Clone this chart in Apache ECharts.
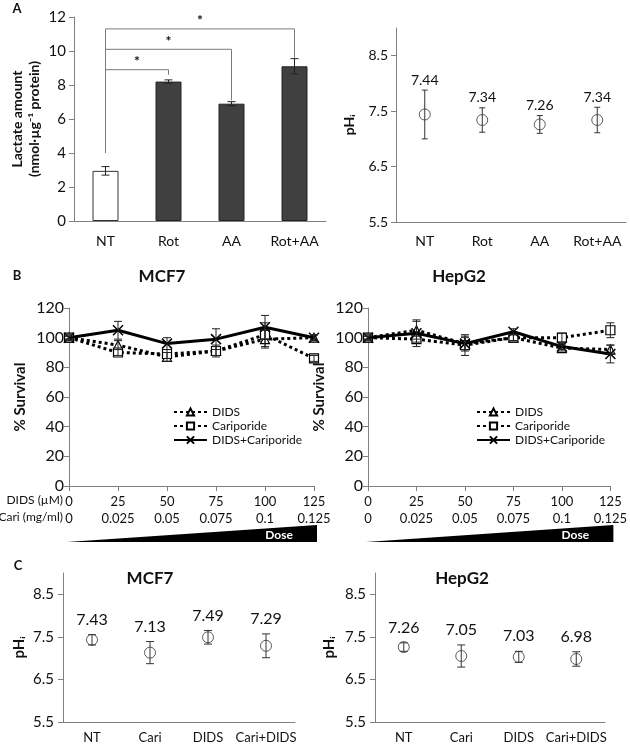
<!DOCTYPE html>
<html><head><meta charset="utf-8">
<script src="https://cdn.jsdelivr.net/npm/echarts@6/dist/echarts.min.js"></script>
<style>html,body{margin:0;padding:0;background:#fff}#c{width:630px;height:744px}</style>
</head><body><div id="c"></div>
<script>
// ---------- DATA ----------
// Panel A (left): lactate amount
const lacCats = ['NT', 'Rot', 'AA', 'Rot+AA'];
const lacVals = [2.95, 8.2, 6.9, 9.1];
const lacErr = [0.25, 0.1, 0.12, 0.45];
// significance brackets: [fromCat, toCat, leftLegBottom, top, rightLegBottom]
const sigBrackets = [[0, 1, 4.0, 8.9, 8.6], [0, 2, 4.0, 10.1, 7.1], [0, 3, 4.0, 11.3, 9.6]];
// Panel A (right): pHi
const phACats = ['NT', 'Rot', 'AA', 'Rot+AA'];
const phAVals = [7.44, 7.34, 7.26, 7.34];
const phAErr = [0.44, 0.22, 0.16, 0.23];
// Panel B: % survival
const didsDose = ['0', '25', '50', '75', '100', '125'];
const cariDose = ['0', '0.025', '0.05', '0.075', '0.1', '0.125'];
const mcfDids = [100, 95, 87, 91, 99, 100];
const mcfDidsErr = [1, 3, 3, 3, 6, 2];
const mcfCari = [100, 90, 89, 91, 102, 86];
const mcfCariErr = [1, 2, 3, 4, 8, 2];
const mcfCombo = [100, 105, 96, 99, 107, 100];
const mcfComboErr = [2, 6, 4, 7, 8, 2];
const hepDids = [100, 105, 96, 100, 93, 92];
const hepDidsErr = [1, 6, 4, 2, 2, 3];
const hepCari = [100, 99, 95, 100, 100, 105];
const hepCariErr = [2, 2, 7, 2, 3, 5];
const hepCombo = [100, 103, 96, 104, 94, 89];
const hepComboErr = [1, 9, 5, 2, 2, 6];
// Panel C: pHi
const phCCats = ['NT', 'Cari', 'DIDS', 'Cari+DIDS'];
const mcfPh = [7.43, 7.13, 7.49, 7.29];
const mcfPhErr = [0.12, 0.26, 0.16, 0.28];
const hepPh = [7.26, 7.05, 7.03, 6.98];
const hepPhErr = [0.1, 0.26, 0.13, 0.17];
const phTicks = [5.5, 6.5, 7.5, 8.5];
const survTicks = [0, 20, 40, 60, 80, 100, 120];

// ---------- STYLE HELPERS ----------
const FONT = 'Lato, "Open Sans", sans-serif';
const AX = '#808080';
const TXT = '#111';

function triple(vals, errs) { return vals.map((v, i) => [i, v, errs[i]]); }

function errRender(capHalf, color, lw, label) {
  return function (params, api) {
    const x = api.value(0), m = api.value(1), e = api.value(2);
    const pT = api.coord([x, m + e]), pB = api.coord([x, m - e]);
    const st = { stroke: color, lineWidth: lw };
    const ch = [
      { type: 'line', shape: { x1: pT[0], y1: pT[1], x2: pB[0], y2: pB[1] }, style: st },
      { type: 'line', shape: { x1: pT[0] - capHalf, y1: pT[1], x2: pT[0] + capHalf, y2: pT[1] }, style: st },
      { type: 'line', shape: { x1: pB[0] - capHalf, y1: pB[1], x2: pB[0] + capHalf, y2: pB[1] }, style: st }
    ];
    if (label) {
      ch.push({ type: 'text', x: pT[0], y: pT[1] - label.gap,
        style: { text: m.toFixed(2), align: 'center', verticalAlign: 'bottom',
          font: label.size + 'px ' + FONT, fill: TXT } });
    }
    return { type: 'group', children: ch };
  };
}

function bracketRender(params, api) {
  const a = api.value(0), b = api.value(1), lb = api.value(2), top = api.value(3), rb = api.value(4);
  const p1 = api.coord([a, lb]), p2 = api.coord([a, top]), p3 = api.coord([b, top]), p4 = api.coord([b, rb]);
  return { type: 'group', children: [
    { type: 'polyline', shape: { points: [p1, p2, p3, p4] }, style: { stroke: '#7a7a7a', lineWidth: 1, fill: null } },
    { type: 'text', x: (p2[0] + p3[0]) / 2, y: p2[1] - 1,
      style: { text: '*', align: 'center', verticalAlign: 'bottom', font: 'bold 14px ' + FONT, fill: TXT } }
  ] };
}

function catX(gi, data, gap, margin, fs) {
  return { type: 'category', gridIndex: gi, data: data, boundaryGap: gap,
    axisLine: { lineStyle: { color: AX, width: 1 } },
    axisTick: { lineStyle: { color: AX }, length: 5, alignWithLabel: false, interval: 0 },
    axisLabel: { color: TXT, fontSize: fs, margin: margin, fontFamily: FONT, interval: 0 } };
}
function valY(gi, min, max, interval, name, gap, fs, custom, nameFs, margin) {
  const ax = { type: 'value', gridIndex: gi, min: min, max: max, interval: interval,
    name: name, nameLocation: 'middle', nameGap: gap, nameRotate: 90,
    nameTextStyle: { fontWeight: 'bold', fontSize: nameFs, color: TXT, fontFamily: FONT, lineHeight: nameFs + 3 },
    axisLine: { show: true, lineStyle: { color: AX, width: 1 } },
    axisTick: { show: true, length: 5, lineStyle: { color: AX } },
    splitLine: { show: false },
    axisLabel: { color: TXT, fontSize: fs, margin: margin, fontFamily: FONT } };
  if (custom) { ax.axisLabel.customValues = custom; ax.axisTick.customValues = custom; }
  return ax;
}

function survSeries(name, vals, errs, xi, yi, sym, size, solid) {
  const line = {
    name: name, type: 'line', xAxisIndex: xi, yAxisIndex: yi, data: vals,
    symbol: sym, symbolSize: size, showAllSymbol: true, z: solid ? 4 : 3,
    lineStyle: solid ? { color: '#000', width: 3 } : { color: '#000', width: 3, type: [3, 3] },
    itemStyle: sym.indexOf('path') === 0 ? { color: 'rgba(0,0,0,0)', borderColor: '#000', borderWidth: 1.5 }
      : { color: '#fff', borderColor: '#000', borderWidth: 1.2 }
  };
  const eb = { type: 'custom', xAxisIndex: xi, yAxisIndex: yi, data: triple(vals, errs),
    encode: { x: 0, y: 1 }, renderItem: errRender(4, '#222', 1, null), z: 5, silent: true };
  return [line, eb];
}

const xSym = 'path://M0,0L10,10M0,10L10,0';

const series = [];
// Panel A left bars
series.push({ type: 'bar', xAxisIndex: 0, yAxisIndex: 0, barWidth: 26,
  data: lacVals.map((v, i) => ({ value: v, itemStyle: i === 0 ? { color: '#fff', borderColor: '#333', borderWidth: 1 } : { color: '#404040', borderColor: '#222', borderWidth: 1 } })) });
series.push({ type: 'custom', xAxisIndex: 0, yAxisIndex: 0, data: triple(lacVals, lacErr), encode: { x: 0, y: 1 },
  renderItem: errRender(4, '#222', 1, null), z: 5 });
series.push({ type: 'custom', xAxisIndex: 0, yAxisIndex: 0, data: sigBrackets, encode: { x: [0, 1], y: [2, 3, 4] },
  renderItem: bracketRender, z: 6 });
// Panel A right pHi
series.push({ type: 'scatter', xAxisIndex: 1, yAxisIndex: 1, data: phAVals, symbol: 'circle', symbolSize: 11,
  itemStyle: { color: 'rgba(255,255,255,0)', borderColor: '#333', borderWidth: 1 } });
series.push({ type: 'custom', xAxisIndex: 1, yAxisIndex: 1, data: triple(phAVals, phAErr), encode: { x: 0, y: 1 },
  renderItem: errRender(3, '#333', 1, { gap: 3, size: 14 }), z: 5 });
// Panel B
series.push(...survSeries('DIDS', mcfDids, mcfDidsErr, 2, 2, 'triangle', 9, false));
series.push(...survSeries('Cariporide', mcfCari, mcfCariErr, 2, 2, 'rect', 9, false));
series.push(...survSeries('DIDS+Cariporide', mcfCombo, mcfComboErr, 2, 2, xSym, 10, true));
series.push(...survSeries('DIDS', hepDids, hepDidsErr, 3, 3, 'triangle', 9, false));
series.push(...survSeries('Cariporide', hepCari, hepCariErr, 3, 3, 'rect', 9, false));
series.push(...survSeries('DIDS+Cariporide', hepCombo, hepComboErr, 3, 3, xSym, 10, true));
// Panel C
series.push({ type: 'scatter', xAxisIndex: 4, yAxisIndex: 4, data: mcfPh, symbol: 'circle', symbolSize: 11,
  itemStyle: { color: 'rgba(255,255,255,0)', borderColor: '#333', borderWidth: 1 } });
series.push({ type: 'custom', xAxisIndex: 4, yAxisIndex: 4, data: triple(mcfPh, mcfPhErr), encode: { x: 0, y: 1 },
  renderItem: errRender(4, '#333', 1, { gap: 7, size: 16 }), z: 5 });
series.push({ type: 'scatter', xAxisIndex: 5, yAxisIndex: 5, data: hepPh, symbol: 'circle', symbolSize: 11,
  itemStyle: { color: 'rgba(255,255,255,0)', borderColor: '#333', borderWidth: 1 } });
series.push({ type: 'custom', xAxisIndex: 5, yAxisIndex: 5, data: triple(hepPh, hepPhErr), encode: { x: 0, y: 1 },
  renderItem: errRender(4, '#333', 1, { gap: 7, size: 16 }), z: 5 });

const doseFmt = (v, i) => didsDose[i] + '\n' + cariDose[i];
const xB0 = catX(2, didsDose, false, 7, 13); xB0.axisLabel.formatter = doseFmt; xB0.axisLabel.lineHeight = 17;
const xB1 = catX(3, didsDose, false, 7, 13); xB1.axisLabel.formatter = doseFmt; xB1.axisLabel.lineHeight = 17;

function txt(text, x, y, size, bold, align, color) {
  return { type: 'text', x: x, y: y, z: 10,
    style: { text: text, font: (bold ? 'bold ' : '') + size + 'px ' + FONT, fill: color || TXT,
      align: align || 'center', verticalAlign: 'middle' } };
}

const option = {
  animation: false,
  textStyle: { fontFamily: FONT },
  grid: [
    { left: 74, top: 17, width: 252, height: 204 },
    { left: 396, top: 28, width: 230, height: 194 },
    { left: 69, top: 308, width: 245, height: 178 },
    { left: 368, top: 308, width: 244, height: 178 },
    { left: 63, top: 573, width: 232, height: 149 },
    { left: 375, top: 573, width: 230, height: 149 }
  ],
  xAxis: [
    catX(0, lacCats, true, 13, 14),
    catX(1, phACats, true, 12, 14),
    xB0, xB1,
    catX(4, phCCats, true, 9, 13),
    catX(5, phCCats, true, 9, 13)
  ],
  yAxis: [
    valY(0, 0, 12, 2, 'Lactate amount\n(nmol·µg⁻¹ protein)', 31, 15, null, 14, 8),
    valY(1, 5.5, 9, 1, 'pHᵢ', 38, 14, phTicks, 14, 8),
    valY(2, 0, 120, 20, '% Survival', 40, 16, survTicks, 15, 5),
    valY(3, 0, 120, 20, '% Survival', 40, 16, survTicks, 15, 5),
    valY(4, 5.5, 9, 1, 'pHᵢ', 35, 15, phTicks, 15, 9),
    valY(5, 5.5, 9, 1, 'pHᵢ', 37, 15, phTicks, 15, 9)
  ],
  legend: [
    { data: ['DIDS', 'Cariporide', 'DIDS+Cariporide'], orient: 'vertical', left: 168, top: 401,
      itemWidth: 33, itemHeight: 9, itemGap: 2, textStyle: { fontSize: 12, color: TXT, fontFamily: FONT }, selectedMode: false },
    { data: ['DIDS', 'Cariporide', 'DIDS+Cariporide'], orient: 'vertical', left: 471, top: 401,
      itemWidth: 33, itemHeight: 9, itemGap: 2, textStyle: { fontSize: 12, color: TXT, fontFamily: FONT }, selectedMode: false }
  ],
  series: series,
  graphic: [
    txt('A', 17, 9, 13, true),
    txt('B', 17, 276, 13, true),
    txt('C', 18, 566, 13, true),
    txt('MCF7', 162, 277, 17, true),
    txt('HepG2', 459, 277, 17, true),
    txt('MCF7', 150, 579, 17, true),
    txt('HepG2', 462, 579, 17, true),
    txt('DIDS (µM)', 63, 500, 12, false, 'right'),
    txt('Cari (mg/ml)', 63, 517, 12, false, 'right')
  ]
};

const chart = echarts.init(document.getElementById('c'), null, { renderer: 'canvas' });
chart.setOption(option);

// Dose wedges anchored to the B x-axes
function wedge(xi, textOffset) {
  const x0 = chart.convertToPixel({ xAxisIndex: xi }, 0) - 2;
  const x1 = chart.convertToPixel({ xAxisIndex: xi }, didsDose.length - 1) + 3;
  const yb = 542, yt = 525;
  return [
    { type: 'polygon', z: 9, shape: { points: [[x0, yb], [x1, yt], [x1, yb]] }, style: { fill: '#000' } },
    txt('Dose', x1 - textOffset, 535, 12, true, 'center', '#fff')
  ];
}
chart.setOption({ graphic: option.graphic.concat(wedge(2, 38), wedge(3, 38)) });
</script>
</body></html>
